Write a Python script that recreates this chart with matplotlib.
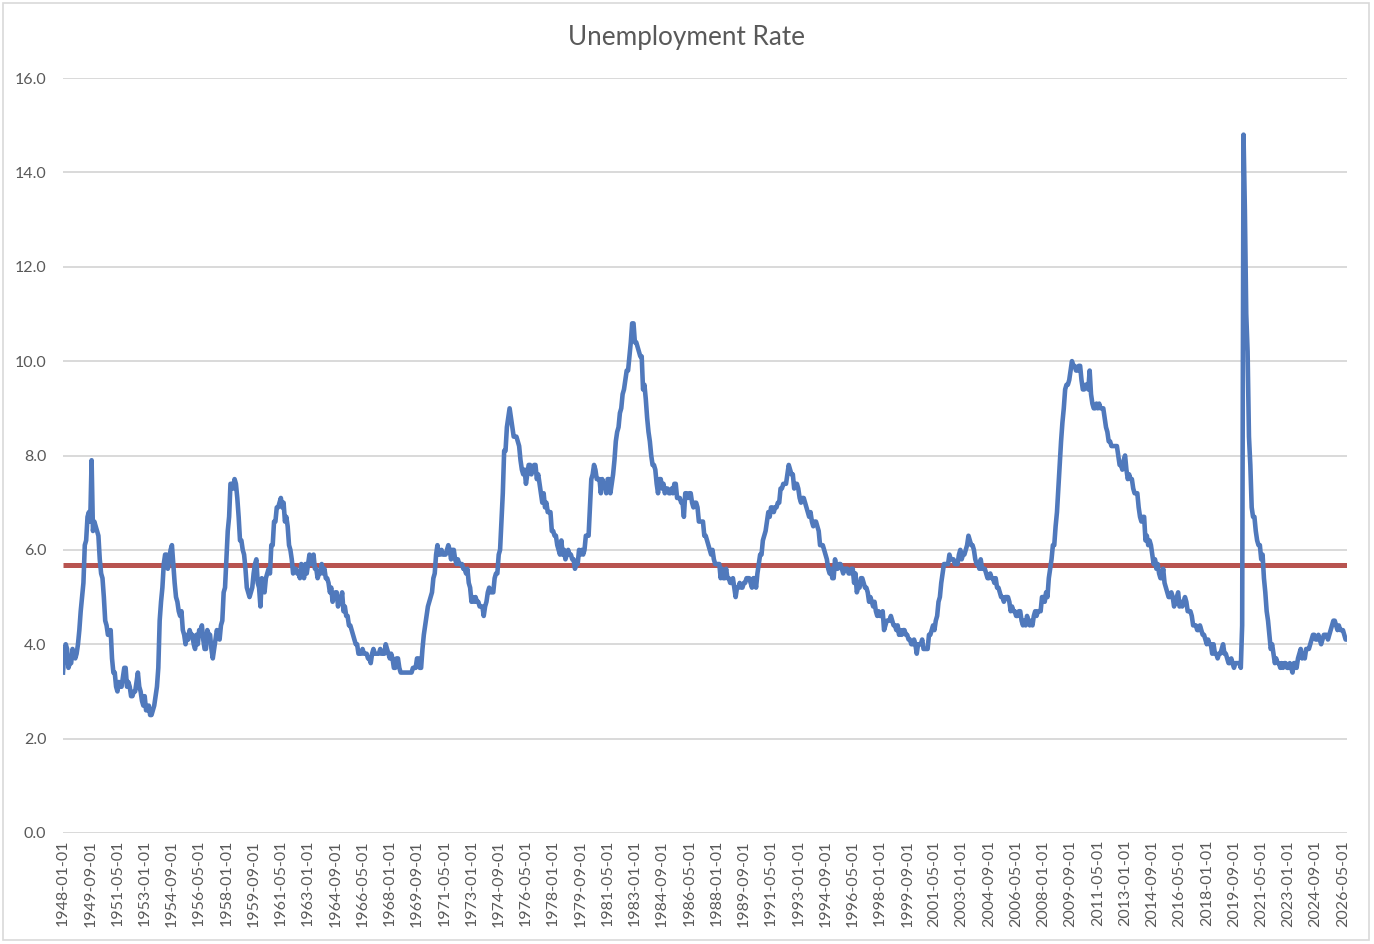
import matplotlib
matplotlib.use("Agg")
import matplotlib.pyplot as plt
from matplotlib.patches import Rectangle
import pandas as pd

# monthly unemployment rate, one row per year (Jan..Dec)
rate_1940s = [
    3.4, 3.8, 4.0, 3.9, 3.5, 3.6, 3.6, 3.9, 3.8, 3.7, 3.8, 4.0,   # 1948
    4.3, 4.7, 5.0, 5.3, 6.1, 6.2, 6.7, 6.8, 6.6, 7.9, 6.4, 6.6,   # 1949
]
rate_1950s = [
    6.5, 6.4, 6.3, 5.8, 5.5, 5.4, 5.0, 4.5, 4.4, 4.2, 4.2, 4.3,
    3.7, 3.4, 3.4, 3.1, 3.0, 3.2, 3.1, 3.1, 3.3, 3.5, 3.5, 3.1,
    3.2, 3.1, 2.9, 2.9, 3.0, 3.0, 3.2, 3.4, 3.1, 3.0, 2.8, 2.7,
    2.9, 2.6, 2.6, 2.7, 2.5, 2.5, 2.6, 2.7, 2.9, 3.1, 3.5, 4.5,
    4.9, 5.2, 5.7, 5.9, 5.9, 5.6, 5.8, 6.0, 6.1, 5.7, 5.3, 5.0,
    4.9, 4.7, 4.6, 4.7, 4.3, 4.2, 4.0, 4.2, 4.1, 4.3, 4.2, 4.2,
    4.0, 3.9, 4.2, 4.0, 4.3, 4.3, 4.4, 4.1, 3.9, 3.9, 4.3, 4.2,
    4.2, 3.9, 3.7, 3.9, 4.1, 4.3, 4.2, 4.1, 4.4, 4.5, 5.1, 5.2,
    5.8, 6.4, 6.7, 7.4, 7.4, 7.3, 7.5, 7.4, 7.1, 6.7, 6.2, 6.2,
    6.0, 5.9, 5.6, 5.2, 5.1, 5.0, 5.1, 5.2, 5.5, 5.7, 5.8, 5.3,
]
rate_1960s = [
    5.2, 4.8, 5.4, 5.2, 5.1, 5.4, 5.5, 5.6, 5.5, 6.1, 6.1, 6.6,
    6.6, 6.9, 6.9, 7.0, 7.1, 6.9, 7.0, 6.6, 6.7, 6.5, 6.1, 6.0,
    5.8, 5.5, 5.6, 5.6, 5.5, 5.5, 5.4, 5.7, 5.6, 5.4, 5.7, 5.5,
    5.7, 5.9, 5.7, 5.7, 5.9, 5.6, 5.6, 5.4, 5.5, 5.5, 5.7, 5.5,
    5.6, 5.4, 5.4, 5.3, 5.1, 5.2, 4.9, 5.0, 5.1, 5.1, 4.8, 5.0,
    4.9, 5.1, 4.7, 4.8, 4.6, 4.6, 4.4, 4.4, 4.3, 4.2, 4.1, 4.0,
    4.0, 3.8, 3.8, 3.8, 3.9, 3.8, 3.8, 3.8, 3.7, 3.7, 3.6, 3.8,
    3.9, 3.8, 3.8, 3.8, 3.8, 3.9, 3.8, 3.8, 3.8, 4.0, 3.9, 3.8,
    3.7, 3.8, 3.7, 3.5, 3.5, 3.7, 3.7, 3.5, 3.4, 3.4, 3.4, 3.4,
    3.4, 3.4, 3.4, 3.4, 3.4, 3.5, 3.5, 3.5, 3.7, 3.7, 3.5, 3.5,
]
rate_1970s = [
    3.9, 4.2, 4.4, 4.6, 4.8, 4.9, 5.0, 5.1, 5.4, 5.5, 5.9, 6.1,
    5.9, 5.9, 6.0, 5.9, 5.9, 5.9, 6.0, 6.1, 6.0, 5.8, 6.0, 6.0,
    5.8, 5.7, 5.8, 5.7, 5.7, 5.7, 5.6, 5.6, 5.5, 5.6, 5.3, 5.2,
    4.9, 5.0, 4.9, 5.0, 4.9, 4.9, 4.8, 4.8, 4.8, 4.6, 4.8, 4.9,
    5.1, 5.2, 5.1, 5.1, 5.1, 5.4, 5.5, 5.5, 5.9, 6.0, 6.6, 7.2,
    8.1, 8.1, 8.6, 8.8, 9.0, 8.8, 8.6, 8.4, 8.4, 8.4, 8.3, 8.2,
    7.9, 7.7, 7.6, 7.7, 7.4, 7.6, 7.8, 7.8, 7.6, 7.7, 7.8, 7.8,
    7.5, 7.6, 7.4, 7.2, 7.0, 7.2, 6.9, 7.0, 6.8, 6.8, 6.8, 6.4,
    6.4, 6.3, 6.3, 6.1, 6.0, 5.9, 6.2, 5.9, 6.0, 5.8, 5.9, 6.0,
    5.9, 5.9, 5.8, 5.8, 5.6, 5.7, 5.7, 6.0, 5.9, 6.0, 5.9, 6.0,
]
rate_1980s = [
    6.3, 6.3, 6.3, 6.9, 7.5, 7.6, 7.8, 7.7, 7.5, 7.5, 7.5, 7.2,
    7.5, 7.4, 7.4, 7.2, 7.5, 7.5, 7.2, 7.4, 7.6, 7.9, 8.3, 8.5,
    8.6, 8.9, 9.0, 9.3, 9.4, 9.6, 9.8, 9.8, 10.1, 10.4, 10.8, 10.8,
    10.4, 10.4, 10.3, 10.2, 10.1, 10.1, 9.4, 9.5, 9.2, 8.8, 8.5, 8.3,
    8.0, 7.8, 7.8, 7.7, 7.4, 7.2, 7.5, 7.5, 7.3, 7.4, 7.2, 7.3,
    7.3, 7.2, 7.2, 7.3, 7.2, 7.4, 7.4, 7.1, 7.1, 7.1, 7.0, 7.0,
    6.7, 7.2, 7.2, 7.1, 7.2, 7.2, 7.0, 6.9, 7.0, 7.0, 6.9, 6.6,
    6.6, 6.6, 6.6, 6.3, 6.3, 6.2, 6.1, 6.0, 5.9, 6.0, 5.8, 5.7,
    5.7, 5.7, 5.7, 5.4, 5.6, 5.4, 5.4, 5.6, 5.4, 5.4, 5.3, 5.3,
    5.4, 5.2, 5.0, 5.2, 5.2, 5.3, 5.2, 5.2, 5.3, 5.3, 5.4, 5.4,
]
rate_1990s = [
    5.4, 5.3, 5.2, 5.4, 5.4, 5.2, 5.5, 5.7, 5.9, 5.9, 6.2, 6.3,
    6.4, 6.6, 6.8, 6.7, 6.9, 6.9, 6.8, 6.9, 6.9, 7.0, 7.0, 7.3,
    7.3, 7.4, 7.4, 7.4, 7.6, 7.8, 7.7, 7.6, 7.6, 7.3, 7.4, 7.4,
    7.3, 7.1, 7.0, 7.1, 7.1, 7.0, 6.9, 6.8, 6.7, 6.8, 6.6, 6.5,
    6.6, 6.6, 6.5, 6.4, 6.1, 6.1, 6.1, 6.0, 5.9, 5.8, 5.6, 5.5,
    5.6, 5.4, 5.4, 5.8, 5.6, 5.6, 5.7, 5.7, 5.6, 5.5, 5.6, 5.6,
    5.6, 5.5, 5.5, 5.6, 5.6, 5.3, 5.5, 5.1, 5.2, 5.2, 5.4, 5.4,
    5.3, 5.2, 5.2, 5.1, 4.9, 5.0, 4.9, 4.8, 4.9, 4.7, 4.6, 4.7,
    4.6, 4.6, 4.7, 4.3, 4.4, 4.5, 4.5, 4.5, 4.6, 4.5, 4.4, 4.4,
    4.3, 4.4, 4.2, 4.3, 4.2, 4.3, 4.3, 4.2, 4.2, 4.1, 4.1, 4.0,
]
rate_2000s = [
    4.0, 4.1, 4.0, 3.8, 4.0, 4.0, 4.0, 4.1, 3.9, 3.9, 3.9, 3.9,
    4.2, 4.2, 4.3, 4.4, 4.3, 4.5, 4.6, 4.9, 5.0, 5.3, 5.5, 5.7,
    5.7, 5.7, 5.7, 5.9, 5.8, 5.8, 5.8, 5.7, 5.7, 5.7, 5.9, 6.0,
    5.8, 5.9, 5.9, 6.0, 6.1, 6.3, 6.2, 6.1, 6.1, 6.0, 5.8, 5.7,
    5.7, 5.6, 5.8, 5.6, 5.6, 5.6, 5.5, 5.4, 5.4, 5.5, 5.4, 5.4,
    5.3, 5.4, 5.2, 5.2, 5.1, 5.0, 5.0, 4.9, 5.0, 5.0, 5.0, 4.9,
    4.7, 4.8, 4.7, 4.7, 4.6, 4.6, 4.7, 4.7, 4.5, 4.4, 4.5, 4.4,
    4.6, 4.5, 4.4, 4.5, 4.4, 4.6, 4.7, 4.6, 4.7, 4.7, 4.7, 5.0,
    5.0, 4.9, 5.1, 5.0, 5.4, 5.6, 5.8, 6.1, 6.1, 6.5, 6.8, 7.3,
    7.8, 8.3, 8.7, 9.0, 9.4, 9.5, 9.5, 9.6, 9.8, 10.0, 9.9, 9.9,
]
rate_2010s = [
    9.8, 9.8, 9.9, 9.9, 9.6, 9.4, 9.4, 9.5, 9.5, 9.4, 9.8, 9.3,
    9.1, 9.0, 9.0, 9.1, 9.0, 9.1, 9.0, 9.0, 9.0, 8.8, 8.6, 8.5,
    8.3, 8.3, 8.2, 8.2, 8.2, 8.2, 8.2, 8.0, 7.8, 7.8, 7.7, 7.9,
    8.0, 7.7, 7.5, 7.6, 7.5, 7.5, 7.3, 7.2, 7.2, 7.2, 6.9, 6.7,
    6.6, 6.7, 6.7, 6.2, 6.3, 6.1, 6.2, 6.1, 5.9, 5.7, 5.8, 5.6,
    5.7, 5.5, 5.4, 5.4, 5.6, 5.3, 5.2, 5.1, 5.0, 5.0, 5.1, 5.0,
    4.8, 4.9, 5.0, 5.1, 4.8, 4.9, 4.8, 4.9, 5.0, 4.9, 4.7, 4.7,
    4.7, 4.6, 4.4, 4.4, 4.4, 4.3, 4.3, 4.4, 4.3, 4.2, 4.2, 4.1,
    4.0, 4.1, 4.0, 4.0, 3.8, 4.0, 3.8, 3.8, 3.7, 3.8, 3.8, 3.9,
    4.0, 3.8, 3.8, 3.7, 3.6, 3.6, 3.7, 3.6, 3.5, 3.6, 3.6, 3.6,
]
rate_2020s = [
    3.6, 3.5, 4.4, 14.8, 13.2, 11.0, 10.2, 8.4, 7.8, 6.9, 6.7, 6.7,
    6.4, 6.2, 6.1, 6.1, 5.8, 5.9, 5.4, 5.1, 4.7, 4.5, 4.2, 3.9,
    4.0, 3.8, 3.6, 3.7, 3.6, 3.6, 3.5, 3.6, 3.5, 3.6, 3.6, 3.5,
    3.5, 3.6, 3.5, 3.4, 3.6, 3.6, 3.5, 3.7, 3.8, 3.9, 3.7, 3.8,
    3.7, 3.9, 3.9, 3.9, 4.0, 4.1, 4.2, 4.2, 4.1, 4.1, 4.2, 4.1,
    4.0, 4.1, 4.2, 4.2, 4.2, 4.1, 4.2, 4.3, 4.4, 4.5, 4.5, 4.4,
    4.3, 4.4, 4.3, 4.3, 4.3, 4.2, 4.1, 4.1,
]

rates = (rate_1940s + rate_1950s + rate_1960s + rate_1970s +
         rate_1980s + rate_1990s + rate_2000s + rate_2010s + rate_2020s)
dates = pd.date_range("1948-01-01", periods=len(rates), freq="MS")
avg_rate = 5.68   # red reference line

label_step = 20
y_ticks = [0, 2, 4, 6, 8, 10, 12, 14, 16]

GRAY = "#595959"
plt.rcParams['font.family'] = ['Lato', 'DejaVu Sans']

fig = plt.figure(figsize=(13.74, 9.44), dpi=100)
ax = fig.add_axes([63/1374, 1 - 833/944, (1347 - 63)/1374, (833 - 78)/944])

x = list(range(len(rates)))
ax.plot(x, [avg_rate] * len(rates), color="#B85450", lw=3.6, zorder=3, solid_capstyle="butt")
ax.plot(x, rates, color="#5079BC", lw=3.3, zorder=4, solid_joinstyle="round")

ax.set_xlim(0, len(rates) - 1)
ax.set_ylim(0, 16)
ax.set_yticks(y_ticks)
ax.set_yticklabels([f"{v:.1f}" for v in y_ticks])
ax.set_xticks(x[::label_step])
ax.set_xticklabels([d.strftime("%Y-%m-%d") for d in dates[::label_step]], rotation=90)

ax.grid(axis="y", color="#D9D9D9", lw=1.4)
ax.set_axisbelow(True)
for s in ax.spines.values():
    s.set_visible(False)
ax.tick_params(axis="y", length=0, pad=12, labelsize=11.5, labelcolor=GRAY)
ax.tick_params(axis="x", length=0, pad=5, labelsize=11.5, labelcolor=GRAY)

fig.text(686/1374, 1 - 37/944, "Unemployment Rate", ha="center", va="center",
         fontsize=18.8, color=GRAY)

# chart border
fig.patches.append(Rectangle((3/1374, 4/944), 1366/1374, 937/944, transform=fig.transFigure,
                             fill=False, edgecolor="#D9D9D9", lw=1.2))

fig.savefig("out.png", dpi=100)
